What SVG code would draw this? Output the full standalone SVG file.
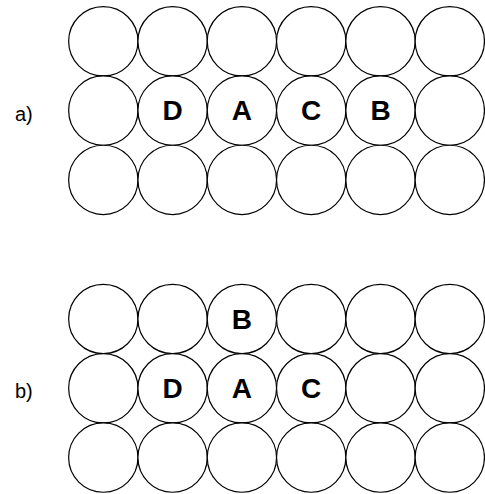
<svg xmlns="http://www.w3.org/2000/svg" width="485" height="494" viewBox="0 0 485 494">
<style>
.c{fill:#fff;stroke:#000;stroke-width:1.2}
.t{font-family:"Liberation Sans",Arial,sans-serif;font-weight:bold;font-size:28px;text-anchor:middle;fill:#000}
.l{font-family:"Liberation Sans",Arial,sans-serif;font-size:20px;fill:#000}
</style>
<rect width="485" height="494" fill="#fff"/>
<text class="l" x="15" y="120.6">a)</text>
<text class="l" x="15" y="398.3">b)</text>
<g id="gridA">
<g id="a-r1c1"><circle class="c" cx="103.3" cy="41.3" r="34.65"/></g>
<g id="a-r1c2"><circle class="c" cx="172.6" cy="41.3" r="34.65"/></g>
<g id="a-r1c3"><circle class="c" cx="241.9" cy="41.3" r="34.65"/></g>
<g id="a-r1c4"><circle class="c" cx="311.2" cy="41.3" r="34.65"/></g>
<g id="a-r1c5"><circle class="c" cx="380.5" cy="41.3" r="34.65"/></g>
<g id="a-r1c6"><circle class="c" cx="449.8" cy="41.3" r="34.65"/></g>
<g id="a-r2c1"><circle class="c" cx="103.3" cy="110.6" r="34.65"/></g>
<g id="a-D"><circle class="c" cx="172.6" cy="110.6" r="34.65"/><text class="t" x="172.6" y="120.4">D</text></g>
<g id="a-A"><circle class="c" cx="241.9" cy="110.6" r="34.65"/><text class="t" x="241.9" y="120.4">A</text></g>
<g id="a-C"><circle class="c" cx="311.2" cy="110.6" r="34.65"/><text class="t" x="311.2" y="120.4">C</text></g>
<g id="a-B"><circle class="c" cx="380.5" cy="110.6" r="34.65"/><text class="t" x="380.5" y="120.4">B</text></g>
<g id="a-r2c6"><circle class="c" cx="449.8" cy="110.6" r="34.65"/></g>
<g id="a-r3c1"><circle class="c" cx="103.3" cy="179.9" r="34.65"/></g>
<g id="a-r3c2"><circle class="c" cx="172.6" cy="179.9" r="34.65"/></g>
<g id="a-r3c3"><circle class="c" cx="241.9" cy="179.9" r="34.65"/></g>
<g id="a-r3c4"><circle class="c" cx="311.2" cy="179.9" r="34.65"/></g>
<g id="a-r3c5"><circle class="c" cx="380.5" cy="179.9" r="34.65"/></g>
<g id="a-r3c6"><circle class="c" cx="449.8" cy="179.9" r="34.65"/></g>
</g>
<g id="gridB">
<g id="b-r1c1"><circle class="c" cx="103.3" cy="319" r="34.65"/></g>
<g id="b-r1c2"><circle class="c" cx="172.6" cy="319" r="34.65"/></g>
<g id="b-B"><circle class="c" cx="241.9" cy="319" r="34.65"/><text class="t" x="241.9" y="328.8">B</text></g>
<g id="b-r1c4"><circle class="c" cx="311.2" cy="319" r="34.65"/></g>
<g id="b-r1c5"><circle class="c" cx="380.5" cy="319" r="34.65"/></g>
<g id="b-r1c6"><circle class="c" cx="449.8" cy="319" r="34.65"/></g>
<g id="b-r2c1"><circle class="c" cx="103.3" cy="388.3" r="34.65"/></g>
<g id="b-D"><circle class="c" cx="172.6" cy="388.3" r="34.65"/><text class="t" x="172.6" y="398.1">D</text></g>
<g id="b-A"><circle class="c" cx="241.9" cy="388.3" r="34.65"/><text class="t" x="241.9" y="398.1">A</text></g>
<g id="b-C"><circle class="c" cx="311.2" cy="388.3" r="34.65"/><text class="t" x="311.2" y="398.1">C</text></g>
<g id="b-r2c5"><circle class="c" cx="380.5" cy="388.3" r="34.65"/></g>
<g id="b-r2c6"><circle class="c" cx="449.8" cy="388.3" r="34.65"/></g>
<g id="b-r3c1"><circle class="c" cx="103.3" cy="457.6" r="34.65"/></g>
<g id="b-r3c2"><circle class="c" cx="172.6" cy="457.6" r="34.65"/></g>
<g id="b-r3c3"><circle class="c" cx="241.9" cy="457.6" r="34.65"/></g>
<g id="b-r3c4"><circle class="c" cx="311.2" cy="457.6" r="34.65"/></g>
<g id="b-r3c5"><circle class="c" cx="380.5" cy="457.6" r="34.65"/></g>
<g id="b-r3c6"><circle class="c" cx="449.8" cy="457.6" r="34.65"/></g>
</g>
<g id="connectors"/>
</svg>
